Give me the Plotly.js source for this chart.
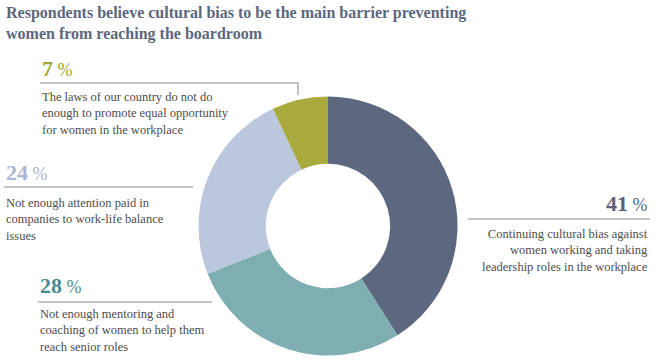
<!DOCTYPE html>
<html>
<head>
<meta charset="utf-8">
<script src="https://cdn.plot.ly/plotly-3.0.1.min.js"></script>
<style>html,body{margin:0;padding:0;background:#fff;}#chart{width:656px;height:360px;}</style>
</head>
<body>
<div id="chart"></div>
<script>
// Data
const categories = [
  "Continuing cultural bias against<br>women working and taking<br>leadership roles in the workplace",
  "Not enough mentoring and<br>coaching of women to help them<br>reach senior roles",
  "Not enough attention paid in<br>companies to work-life balance<br>issues",
  "The laws of our country do not do<br>enough to promote equal opportunity<br>for women in the workplace"
];
const values = [41, 28, 24, 7];
const sliceColors = ["#5b6880", "#7faeb2", "#bac7dc", "#a9aa3d"];
const labelColors = ["#56627b", "#4a8c91", "#a9b5d2", "#a3a63a"];
const titleText = "Respondents believe cultural bias to be the main barrier preventing<br>women from reaching the boardroom";

const W = 656, H = 360;
const px = x => x / W;
const py = y => 1 - y / H;

// Layout positions for label blocks (pixels): [x, pctY, descTopY, xanchor]
const labelPos = [
  [650, 203, 225, "right"],
  [38, 285, 305, "left"],
  [4, 172, 194, "left"],
  [40, 68, 88, "left"]
];
const leaderLines = [
  [[468, 219], [650, 219]],
  [[38, 302], [212, 302]],
  [[4, 187], [193, 187]],
  [[40, 83], [298, 83], [298, 95]]
];

const serif = "Liberation Serif, DejaVu Serif, serif";

const annotations = [{
  text: "<b>" + titleText + "</b>",
  x: px(4), y: py(2), xref: "paper", yref: "paper",
  xanchor: "left", yanchor: "top", align: "left", showarrow: false,
  font: {family: serif, size: 16, color: "#5c677e"}
}];
values.forEach((v, i) => {
  const [x, yp, yd, xa] = labelPos[i];
  annotations.push({
    text: "<b>" + v + "</b><span style='font-size:18px'> %</span>",
    x: px(x), y: py(yp), xref: "paper", yref: "paper",
    xanchor: xa, yanchor: "middle", align: xa, showarrow: false,
    font: {family: serif, size: 22, color: labelColors[i]}
  });
  annotations.push({
    text: categories[i],
    x: px(x), y: py(yd), xref: "paper", yref: "paper",
    xanchor: xa, yanchor: "top", align: xa, showarrow: false,
    font: {family: serif, size: 12.5, color: "#4d4d4d"}
  });
});

const shapes = leaderLines.map(pts => ({
  type: "path", xref: "paper", yref: "paper",
  path: pts.map((p, j) => (j ? "L" : "M") + px(p[0]) + "," + py(p[1])).join(" "),
  line: {color: "#b0b0b0", width: 1.5}
}));

const cx = 328, cy = 226, r = 129.5;
Plotly.newPlot("chart", [{
  type: "pie",
  values: values,
  labels: categories,
  marker: {colors: sliceColors, line: {width: 0}},
  hole: 0.48,
  sort: false,
  direction: "clockwise",
  rotation: 0,
  textinfo: "none",
  hoverinfo: "none",
  domain: {x: [(cx - r) / W, (cx + r) / W], y: [(H - cy - r) / H, (H - cy + r) / H]}
}], {
  width: W, height: H,
  margin: {l: 0, r: 0, t: 0, b: 0},
  showlegend: false,
  paper_bgcolor: "#fff",
  annotations: annotations,
  shapes: shapes
}, {staticPlot: true});
</script>
</body>
</html>
